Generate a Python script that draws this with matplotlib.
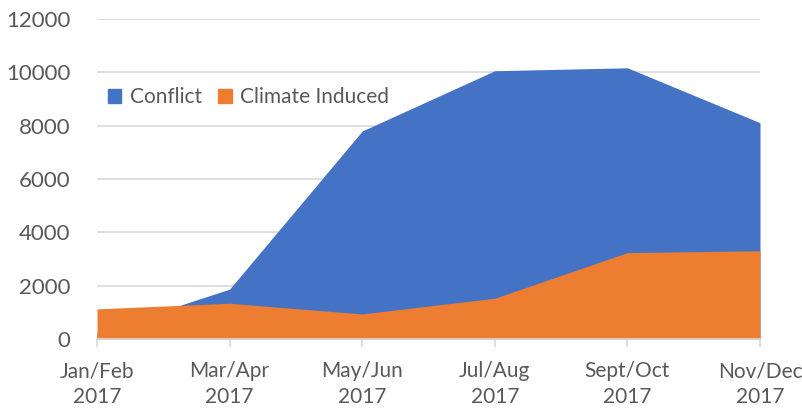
import matplotlib
matplotlib.use("Agg")
import matplotlib.pyplot as plt
from matplotlib.patches import Patch

plt.rcParams['font.family'] = ['Lato', 'DejaVu Sans']

periods = ["Jan/Feb\n2017", "Mar/Apr\n2017", "May/Jun\n2017",
           "Jul/Aug\n2017", "Sept/Oct\n2017", "Nov/Dec\n2017"]
conflict = [250, 1870, 7800, 10060, 10170, 8110]
climate = [1130, 1340, 940, 1530, 3240, 3310]

blue = '#4472C4'
orange = '#ED7D31'
grey = '#595959'

fig = plt.figure(figsize=(8.03, 4.09), dpi=100)
ax = fig.add_axes([97 / 803, 1 - 339 / 409, (760 - 97) / 803, (339 - 19) / 409])

x = list(range(len(periods)))
ax.fill_between(x, 0, conflict, color=blue, linewidth=0, zorder=2)
ax.fill_between(x, 0, climate, color=orange, linewidth=0, zorder=3)

ax.set_xlim(0, len(periods) - 1)
ax.set_ylim(0, 12000)
ax.set_yticks(range(0, 12001, 2000))
ax.set_xticks(x)
ax.set_xticklabels(periods)
ax.grid(axis='y', color='#D9D9D9', linewidth=1.2, zorder=0)
ax.set_axisbelow(True)

for s in ['top', 'right', 'left']:
    ax.spines[s].set_visible(False)
ax.spines['bottom'].set_color('#D9D9D9')
ax.spines['bottom'].set_linewidth(1.2)
ax.spines['bottom'].set_zorder(4)

ax.tick_params(axis='x', colors='#D9D9D9', length=6, width=1.2, labelcolor=grey,
               labelsize=15, pad=10)
ax.tick_params(axis='y', length=0, labelcolor=grey, labelsize=16, pad=19)
for lbl in ax.get_xticklabels():
    lbl.set_linespacing(1.35)

handles = [Patch(color=blue, label='Conflict'), Patch(color=orange, label='Climate Induced')]
ax.legend(handles=handles, loc='upper left', bbox_to_anchor=(-0.012, 0.845), ncol=2,
          frameon=False, fontsize=15, labelcolor=grey, handlelength=0.65,
          handleheight=0.65, handletextpad=0.4, columnspacing=0.8)

fig.savefig('out.png', dpi=100)
